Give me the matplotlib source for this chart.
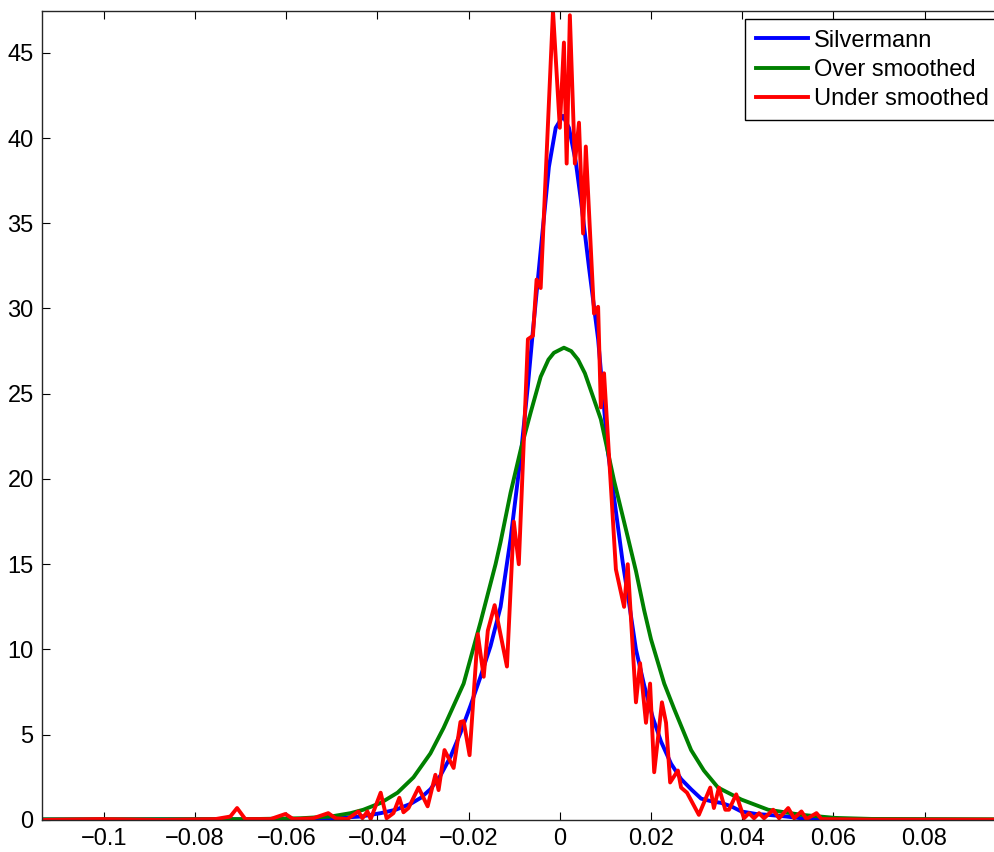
import numpy as np
import matplotlib
matplotlib.use('Agg')
import matplotlib.pyplot as plt

plt.rcParams['font.family'] = ['Liberation Sans', 'DejaVu Sans']

# Silvermann bandwidth estimate
x_silv = [-0.1136, -0.0679, -0.0569, -0.0503, -0.0437, -0.0393, -0.0360, -0.0327,
          -0.0305, -0.0284, -0.0262, -0.0240, -0.0218, -0.0196, -0.0174, -0.0152,
          -0.0130, -0.0108, -0.0086, -0.0070, -0.0059, -0.0042, -0.0024, -0.0009,
          0.0007, 0.0020, 0.0035, 0.0046, 0.0064, 0.0084, 0.0105, 0.0119, 0.0138,
          0.0152, 0.0167, 0.0185, 0.0204, 0.0222, 0.0244, 0.0266, 0.0288, 0.0310,
          0.0332, 0.0354, 0.0376, 0.0398, 0.0431, 0.0457, 0.0497, 0.0530, 0.0604,
          0.0966]
y_silv = [0.02, 0.04, 0.06, 0.1, 0.2, 0.4, 0.6, 0.95,
          1.3, 1.8, 2.6, 3.7, 5.1, 6.7, 8.4, 10.2,
          12.5, 16.5, 21.3, 25.5, 28.7, 33.4, 38.3, 40.6,
          41.3, 40.6, 38.6, 36.4, 32.4, 28.2, 21.7, 18.9, 15.1,
          12.7, 10.0, 7.9, 6.0, 4.6, 3.3, 2.4, 1.8, 1.25,
          1.1, 1.0, 0.8, 0.5, 0.35, 0.3, 0.2, 0.1, 0.03,
          0.0]

# over smoothed
x_over = [-0.1136, -0.0679, -0.0569, -0.0503, -0.0459, -0.0431, -0.0393, -0.0356,
          -0.0321, -0.0284, -0.0255, -0.0233, -0.0211, -0.0174, -0.0141, -0.0130,
          -0.0108, -0.0086, -0.0064, -0.0042, -0.0025, -0.0013, 0.0009, 0.0025,
          0.0040, 0.0055, 0.0068, 0.0090, 0.0119, 0.0149, 0.0167, 0.0185, 0.0200,
          0.0229, 0.0251, 0.0288, 0.0316, 0.0347, 0.0398, 0.0457, 0.0530, 0.0604,
          0.0684, 0.0966]
y_over = [0.04, 0.05, 0.1, 0.2, 0.4, 0.6, 1.0, 1.6,
          2.5, 3.9, 5.4, 6.7, 8.0, 11.6, 15.0, 16.3,
          19.2, 21.7, 23.9, 26.0, 27.0, 27.4, 27.7, 27.5,
          27.0, 26.2, 25.2, 23.5, 19.9, 16.6, 14.6, 12.3, 10.6,
          8.0, 6.5, 4.1, 2.9, 1.9, 1.2, 0.6, 0.3, 0.12,
          0.06, 0.04]

# under smoothed
x_under = [-0.1136, -0.1009, -0.0877, -0.0756, -0.0723, -0.0708, -0.0690, -0.0635,
           -0.0602, -0.0585, -0.0541, -0.0508, -0.0492, -0.0466, -0.0442, -0.0433,
           -0.0422, -0.0415, -0.0393, -0.0380, -0.0365, -0.0352, -0.0343, -0.0332,
           -0.0310, -0.0290, -0.0273, -0.0266, -0.0253, -0.0233, -0.0218, -0.0211,
           -0.0198, -0.0180, -0.0167, -0.0158, -0.0143, -0.0116, -0.0101, -0.0090,
           -0.0070, -0.0059, -0.0051, -0.0042, -0.0015, 0.0000, 0.0009, 0.0015,
           0.0022, 0.0033, 0.0042, 0.0051, 0.0057, 0.0075, 0.0084, 0.0090,
           0.0097, 0.0123, 0.0141, 0.0149, 0.0167, 0.0176, 0.0189, 0.0198,
           0.0207, 0.0224, 0.0233, 0.0242, 0.0259, 0.0266, 0.0279, 0.0305,
           0.0330, 0.0338, 0.0349, 0.0363, 0.0371, 0.0387, 0.0404, 0.0415,
           0.0426, 0.0437, 0.0448, 0.0468, 0.0481, 0.0501, 0.0514, 0.0530,
           0.0541, 0.0563, 0.0574, 0.0684, 0.0966]
y_under = [0.0, 0.05, 0.0, 0.05, 0.2, 0.7, 0.05, 0.05,
           0.35, 0.05, 0.1, 0.4, 0.1, 0.05, 0.5, 0.1,
           0.5, 0.05, 1.6, 0.1, 0.4, 1.3, 0.45, 0.7,
           1.9, 0.8, 2.65, 1.75, 4.1, 3.05, 5.75, 5.8,
           3.8, 10.9, 8.4, 11.1, 12.6, 9.0, 17.5, 15.0,
           28.2, 28.4, 31.7, 31.2, 47.45, 40.6, 45.6, 38.5,
           47.2, 38.5, 40.9, 34.4, 39.5, 29.7, 30.1, 24.2,
           26.2, 14.7, 12.5, 15.0, 6.9, 9.2, 5.7, 8.0,
           2.8, 6.9, 5.7, 2.2, 2.9, 1.9, 1.6, 0.3,
           1.9, 0.7, 1.9, 0.6, 0.6, 1.5, 0.1, 0.4,
           0.1, 0.4, 0.1, 0.6, 0.1, 0.7, 0.1, 0.5,
           0.05, 0.4, 0.05, 0.02, 0.02]

fig = plt.figure(figsize=(9.95, 8.52), dpi=100)
ax = fig.add_axes([0.0422, 0.0376, 0.963, 0.9495])

ax.plot(x_silv, y_silv, color='#0000ff', lw=2.8, label='Silvermann')
ax.plot(x_over, y_over, color='#008000', lw=2.8, label='Over smoothed')
ax.plot(x_under, y_under, color='#ff0000', lw=2.8, label='Under smoothed')

ax.set_xlim(-0.1136, 0.0966)
ax.set_ylim(0, 47.45)

xt = [-0.1, -0.08, -0.06, -0.04, -0.02, 0, 0.02, 0.04, 0.06, 0.08]
ax.set_xticks(xt)
ax.set_xticklabels([('%g' % v).replace('-', '\u2212') for v in xt])
ax.set_yticks(range(0, 50, 5))

ax.tick_params(direction='in', length=6, width=0.8, top=True, right=False,
               labelsize=17, colors='black', pad=6)
for s in ax.spines.values():
    s.set_color('#262626')
    s.set_linewidth(1.0)

leg = ax.legend(loc='upper left', bbox_to_anchor=(0.7338, 0.990),
                fontsize=17, frameon=True, fancybox=False,
                edgecolor='black', framealpha=1, handlelength=2.2,
                handletextpad=0.25, labelspacing=0.3, borderpad=0.45,
                borderaxespad=0)
leg.get_frame().set_linewidth(1.0)

fig.savefig('out.png', dpi=100)
